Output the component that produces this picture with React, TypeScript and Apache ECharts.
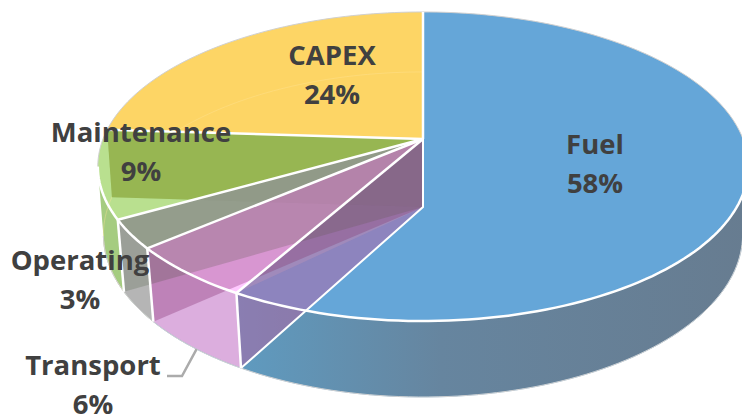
import React, { useEffect, useRef } from "react";
import * as echarts from "echarts";

const categories = ["Fuel", "Transport", "Operating", "Maintenance", "CAPEX"];
const shares = [58.2, 5.6, 3.0, 9.2, 24.0];

const topColors = ["#65a6d8", "#ffc8ff", "#acb3a6", "#b9e08f", "#fdd565"];
const sideColors = ["", "#dcaede", "#b5b5b5", "#a5cc80", "#fdd565"];
const labelCenters = [[595, 143], [93, 364], [80, 259], [141, 131], [332, 54]];
const LABEL_GAP = 39.5;

const topPlane = { cx: 423, cy: 139, a: 124.9, c: -0.178, k: 320 };
const basePlane = { cx: 423, cy: 207, a: 122.9, c: -0.169, k: 315 };
const FRONT_START = 100.2;
const FRONT_END = 259.7;

type Plane = typeof topPlane;
const rad = (d: number) => (d * Math.PI) / 180;
const project = (p: Plane, deg: number) => {
  const t = -Math.cos(rad(deg));
  const w = 1 + p.c * t;
  return [p.cx + (p.k * Math.sin(rad(deg))) / w, (p.a * t + p.cy) / w];
};
const arc = (p: Plane, from: number, to: number) => {
  const n = Math.max(2, Math.ceil(Math.abs(to - from) / 1.5));
  const pts: number[][] = [];
  for (let i = 0; i <= n; i++) pts.push(project(p, from + ((to - from) * i) / n));
  return pts;
};
const centerOf = (p: Plane) => [p.cx, p.cy];

const total = shares.reduce((a, b) => a + b, 0);
const ends: number[] = [];
shares.reduce((acc, v, i) => {
  ends[i] = ((acc + v) / total) * 360;
  return acc + v;
}, 0);
const starts = ends.map((_, i) => (i === 0 ? 0 : ends[i - 1]));

const intersect = (a: number[], b: number[], c: number[], d: number[]) => {
  const d1x = b[0] - a[0], d1y = b[1] - a[1], d2x = d[0] - c[0], d2y = d[1] - c[1];
  const s = ((c[0] - a[0]) * d2y - (c[1] - a[1]) * d2x) / (d1x * d2y - d1y * d2x);
  return [a[0] + d1x * s, a[1] + d1y * s];
};

const poly = (points: number[][], fill: any) => ({
  type: "polygon",
  shape: { points },
  style: { fill, stroke: null },
  silent: true,
});
const line = (points: number[][], stroke: string, lineWidth: number) => ({
  type: "polyline",
  shape: { points },
  style: { fill: null, stroke, lineWidth },
  silent: true,
});

const sideItem = (i: number) => {
  const from = Math.max(starts[i], FRONT_START);
  const to = Math.min(ends[i], FRONT_END);
  if (to <= from) return { type: "group", children: [] };
  const pts = [...arc(topPlane, from, to), ...arc(basePlane, to, from)];
  const fill =
    i === 0
      ? new echarts.graphic.LinearGradient(0, 0, 1, 0, [
          { offset: 0, color: "#5f9bc0" },
          { offset: 0.4, color: "#66859f" },
          { offset: 1, color: "#677c90" },
        ])
      : sideColors[i];
  return poly(pts, fill);
};

const faceItem = (i: number) => ({
  type: "group",
  children: [
    poly([centerOf(topPlane), ...arc(topPlane, starts[i], ends[i])], topColors[i]),
    line(
      arc(basePlane, Math.max(starts[i], FRONT_END), i === 0 ? Math.min(ends[i], FRONT_START) : ends[i]),
      i === 0 ? "rgba(80,150,205,0.45)" : "rgba(255,228,150,0.4)",
      1,
    ),
  ],
});

const wallPoints = (deg: number) => [
  centerOf(topPlane),
  project(topPlane, deg),
  project(basePlane, deg),
  centerOf(basePlane),
];

const wallFills = ["rgba(190,90,160,0.45)", "rgba(100,0,70,0.25)", "rgba(40,60,20,0.18)", "rgba(60,60,30,0.03)"];

const wallItem = (i: number) => {
  if (i >= ends.length - 1) return { type: "group", children: [] };
  const pts = wallPoints(ends[i]);
  const children: any[] = [poly(pts, wallFills[i])];
  if (i === 3) {
    const x = intersect(
      centerOf(topPlane),
      project(topPlane, starts[i]),
      project(basePlane, ends[i]),
      centerOf(basePlane),
    );
    children.push(poly([centerOf(topPlane), pts[1], pts[2], x], "#97b652"));
    const fuelEnd = ends[0];
    children.push(poly([centerOf(topPlane), centerOf(basePlane), project(topPlane, fuelEnd)], "rgba(255,170,170,0.17)"));
  }
  return { type: "group", children };
};

const EDGE = 2.5;
const edgeItem = (i: number) => {
  const children: any[] = [
    line([centerOf(topPlane), project(topPlane, ends[i])], "#ffffff", EDGE),
  ];
  if (i < 3) children.push(line([project(topPlane, ends[i]), project(basePlane, ends[i])], "#ffffff", EDGE));
  if (i === 0) {
    children.push(line([centerOf(topPlane), centerOf(basePlane), project(basePlane, ends[i])], "#ffffff", 2));
  }
  return { type: "group", children };
};

const outlineItem = () => ({
  type: "group",
  children: [
    line(arc(basePlane, FRONT_START, FRONT_END), "#d0d0d0", 1),
    line(arc(topPlane, FRONT_END, 360 + FRONT_START), "#d0d0d0", 1),
    line(arc(topPlane, FRONT_START, FRONT_END), "#ffffff", EDGE),
  ],
});

const labelItem = (i: number) => {
  const [x, y] = labelCenters[i];
  const base = {
    fill: "#404040",
    fontFamily: "'Open Sans', sans-serif",
    fontWeight: 700,
    fontSize: 27.5,
    align: "center",
    verticalAlign: "middle",
  };
  const children: any[] = [
    { type: "text", silent: true, style: { ...base, x, y, text: categories[i] } },
    {
      type: "text",
      silent: true,
      style: { ...base, x, y: y + LABEL_GAP, text: `${Math.round((shares[i] / total) * 100)}%` },
    },
  ];
  if (categories[i] === "Transport") {
    const mid = project(basePlane, (starts[i] + ends[i]) / 2 - 1);
    children.push(
      line([[x + 74, y + 12], [x + 89, y + 12], mid], "#ababab", 2.5),
    );
  }
  return { type: "group", children };
};

const layer = (renderOne: (i: number) => any) => ({
  type: "custom",
  coordinateSystem: "none",
  silent: true,
  data: categories.map((name, i) => ({ name, value: shares[i] })),
  renderItem: (params: any) => renderOne(params.dataIndex),
});

export default function App() {
  const ref = useRef<HTMLDivElement>(null);
  useEffect(() => {
    document.body.style.margin = "0";
    const chart = echarts.init(ref.current!, null, { renderer: "svg" });
    chart.setOption({
      animation: false,
      backgroundColor: "#ffffff",
      series: [
        layer(sideItem),
        layer(faceItem),
        layer(wallItem),
        layer((i) => (i === 0 ? outlineItem() : { type: "group", children: [] })),
        layer(edgeItem),
        layer(labelItem),
      ],
    });
    return () => chart.dispose();
  }, []);
  return <div ref={ref} style={{ width: 742, height: 414 }} />;
}
